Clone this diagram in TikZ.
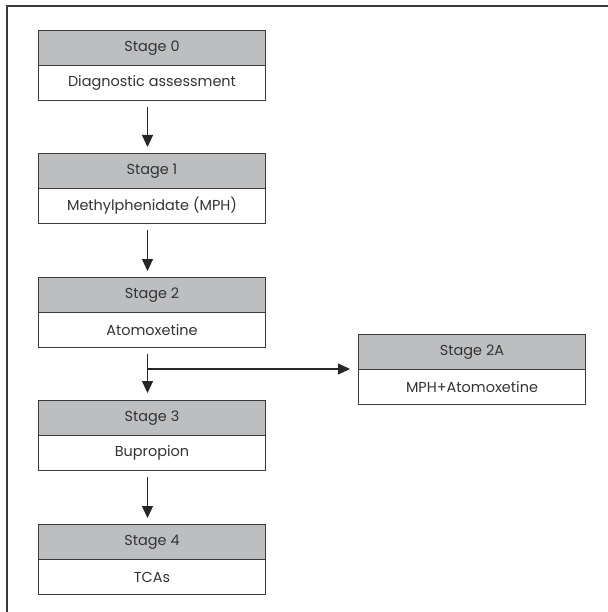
\documentclass[tikz,border=0pt]{standalone}
\usepackage{fontspec}
\setmainfont{Poppins}
\usetikzlibrary{arrows.meta}
\definecolor{hdrgray}{HTML}{BDBEC0}
\definecolor{edge}{HTML}{3A3A3A}
\tikzset{
  hdr/.style={draw=edge, line width=1bp, fill=hdrgray, minimum width=227bp, minimum height=35bp, inner sep=0pt, anchor=north west, font=\fontsize{14.5}{16}\selectfont, text=black!80},
  bodybox/.style={draw=edge, line width=1bp, fill=white, minimum width=227bp, minimum height=35bp, inner sep=0pt, anchor=north west, font=\fontsize{14.5}{16}\selectfont, text=black!80},
  conn/.style={draw=black!85, line width=1.1bp, -{Triangle[length=12bp,width=11bp]}},
}
\begin{document}
\begin{tikzpicture}[x=1bp,y=-1bp]
\useasboundingbox (0,0) rectangle (608,612);
\draw[edge, line width=1.4bp] (7,612) -- (7,6) -- (608,6);
% Stage 0
\node[hdr] (s0h) at (38,30) {Stage 0};
\node[bodybox] (s0b) at (38,65) {Diagnostic assessment};
% Stage 1
\node[hdr] (s1h) at (38,153) {Stage 1};
\node[bodybox] (s1b) at (38,188) {Methylphenidate (MPH)};
% Stage 2
\node[hdr] (s2h) at (38,277) {Stage 2};
\node[bodybox] (s2b) at (38,312) {Atomoxetine};
% Stage 2A
\node[hdr] (s2ah) at (358,334) {Stage 2A};
\node[bodybox] (s2ab) at (358,369) {MPH+Atomoxetine};
% Stage 3
\node[hdr] (s3h) at (38,400) {Stage 3};
\node[bodybox] (s3b) at (38,435) {Bupropion};
% Stage 4
\node[hdr] (s4h) at (38,524) {Stage 4};
\node[bodybox] (s4b) at (38,559) {TCAs};
% connectors
\draw[conn, shorten <=6bp, shorten >=6bp] ([xshift=-4.5bp]s0b.south) -- ([xshift=-4.5bp]s1h.north);
\draw[conn, shorten <=6bp, shorten >=6bp] ([xshift=-4.5bp]s1b.south) -- ([xshift=-4.5bp]s2h.north);
\draw[conn, shorten <=6bp, shorten >=7bp] ([xshift=-4.5bp]s2b.south) -- ([xshift=-4.5bp]s3h.north);
\coordinate (br) at ([xshift=-4.5bp]s2b.south |- s2ab.north west);
\draw[conn, shorten >=8bp] (br) -- (s2ab.north west);
\draw[conn, shorten <=6bp, shorten >=6bp] ([xshift=-4.5bp]s3b.south) -- ([xshift=-4.5bp]s4h.north);
\end{tikzpicture}
\end{document}
